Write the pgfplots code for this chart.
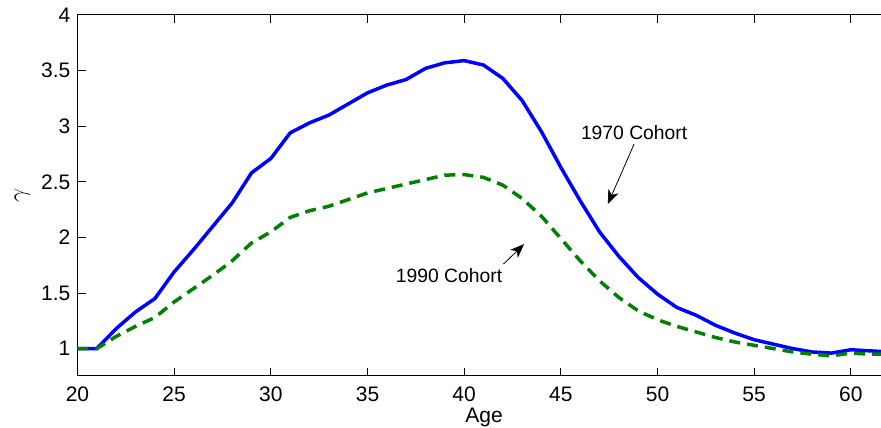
\documentclass[border=0pt]{standalone}
\usepackage{pgfplots}
\pgfplotsset{compat=1.18}
\usepackage{fontspec}
\setmainfont{Liberation Sans}
\usetikzlibrary{arrows.meta}
\begin{document}
\begin{tikzpicture}
\begin{axis}[
  name=ax,
  scale only axis,
  width=803.5pt, height=361pt,
  xmin=20, xmax=61.56, ymin=0.754, ymax=4,
  axis x line=box, axis y line=left,
  axis line style={-, line width=1pt},
  tick style={line width=1pt, black},
  major tick length=8pt,
  tick align=inside,
  xtick={20,25,...,60},
  ytick={1,1.5,2,2.5,3,3.5,4},
  /pgf/number format/assume math mode=true,
  tick label style={font=\fontsize{21}{25}\selectfont},
  xticklabel style={anchor=base, yshift=-26pt, inner sep=0pt},
  yticklabel style={anchor=east, inner sep=0pt, xshift=-7pt},
  xlabel={Age},
  ylabel={$\gamma$},
  xlabel style={at={(axis description cs:0.506,-0.130)}, anchor=base, font=\fontsize{21}{25}\selectfont, inner sep=0pt},
  ylabel style={at={(axis description cs:-0.0685,0.5)}, anchor=center, font=\fontsize{27}{30}\selectfont, inner sep=0pt},
  clip=true,
]
\addplot[color={rgb,1:red,0;green,0;blue,1}, line width=3.5pt, line join=round] coordinates {
(20,1) (21,1) (22,1.18) (23,1.33) (24,1.45) (25,1.69) (26,1.89) (27,2.10) (28,2.31) (29,2.58) (30,2.71)
(31,2.94) (32,3.03) (33,3.10) (34,3.20) (35,3.30) (36,3.37) (37,3.42) (38,3.52) (39,3.57) (40,3.59)
(41,3.55) (42,3.43) (43,3.23) (44,2.95) (45,2.63) (46,2.33) (47,2.05) (48,1.83) (49,1.64) (50,1.49)
(51,1.37) (52,1.30) (53,1.21) (54,1.14) (55,1.08) (56,1.04) (57,1.00) (58,0.97) (59,0.96) (60,0.99)
(61,0.98) (62,0.97)
};
\addplot[color={rgb,1:red,0;green,0.5;blue,0}, line width=3.5pt, dash pattern=on 11pt off 7pt, line join=round] coordinates {
(20,1) (21,1) (22,1.11) (23,1.20) (24,1.28) (25,1.42) (26,1.54) (27,1.66) (28,1.79) (29,1.95) (30,2.05)
(31,2.18) (32,2.24) (33,2.28) (34,2.34) (35,2.40) (36,2.44) (37,2.48) (38,2.52) (39,2.56) (40,2.565)
(41,2.54) (42,2.47) (43,2.35) (44,2.19) (45,1.99) (46,1.79) (47,1.61) (48,1.46) (49,1.34) (50,1.26)
(51,1.20) (52,1.15) (53,1.10) (54,1.06) (55,1.03) (56,1.00) (57,0.97) (58,0.95) (59,0.935) (60,0.96)
(61,0.95) (62,0.95)
};
\node[font=\fontsize{19.3}{23}\selectfont, inner sep=0pt] at (axis cs:48.79,2.94) {1970 Cohort};
\draw[line width=0.8pt, -{Stealth[length=14pt, width=11pt, inset=4pt]}] (axis cs:48.79,2.84) -- (axis cs:47.43,2.30);
\node[font=\fontsize{19.3}{23}\selectfont, inner sep=0pt] at (axis cs:39.22,1.654) {1990 Cohort};
\draw[line width=0.8pt, -{Stealth[length=14pt, width=11pt, inset=4pt]}] (axis cs:42.03,1.76) -- (axis cs:43.10,1.94);
\end{axis}
\pgfresetboundingbox
\path ([xshift=-77.5pt,yshift=-52pt]ax.south west) rectangle ([yshift=15pt]ax.north east);
\end{tikzpicture}
\end{document}
